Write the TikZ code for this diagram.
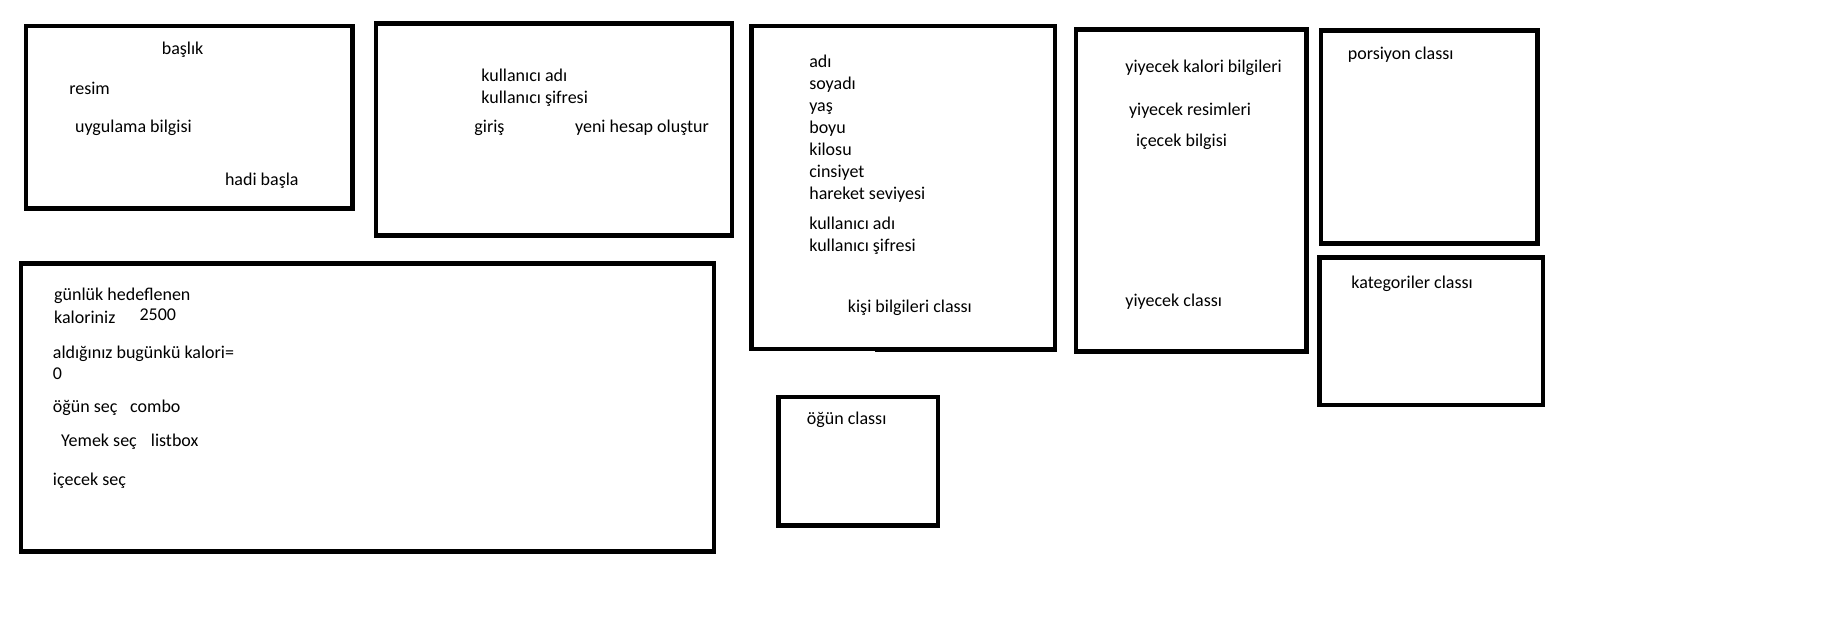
\documentclass[tikz,border=0pt]{standalone}
\usepackage{fontspec}
\setmainfont{Carlito}
\begin{document}
\begin{tikzpicture}[x=1pt,y=-1pt,
  screen/.style={draw,line width=4.5pt},
  txt/.style={anchor=base west,inner sep=0pt,font=\fontsize{18}{20}\selectfont}
  ]
  \useasboundingbox (0,0) rectangle (1836,644);
  % screens
  \draw[screen] (25.8,25.8) rectangle (352.4,208.4);
  \draw[screen] (375.9,23.4) rectangle (731.8,235.4);
  \draw[screen] (751.7,25.8) rectangle (1055,348.9);
  \draw[line width=4.5pt] (875,350.2) -- (1057,350.2);
  \draw[screen] (1076,29.3) rectangle (1306.7,351.3);
  \draw[screen] (1320.8,30.4) rectangle (1537.4,243.5);
  \draw[screen] (1319.6,257.6) rectangle (1543.2,405.1);
  \draw[screen] (21.1,263.5) rectangle (714.2,551.5);
  \draw[screen] (778.6,396.9) rectangle (937.9,525.7);
  % welcome
  \node[txt] (baslik) at (161.6,55) {başlık};
  \node[txt] (resim) at (69.1,94.8) {resim};
  \node[txt] (bilgi) at (74.9,133) {uygulama bilgisi};
  \node[txt] (basla) at (224.8,185.6) {hadi başla};
  % login
  \node[txt] (kadi) at (481.2,81.4) {kullanıcı adı};
  \node[txt] (ksifre) at (481.2,103.7) {kullanıcı şifresi};
  \node[txt] (giris) at (474.2,133) {giriş};
  \node[txt] (yeni) at (574.9,133) {yeni hesap oluştur};
  % kisi
  \foreach \t [count=\i] in {adı,soyadı,yaş,boyu,kilosu,cinsiyet,hareket seviyesi}
    \node[txt] (kisi\i) at (809.1,{67.9+22*(\i-1)}) {\t};
  \node[txt] (kisikadi) at (809.1,229.5) {kullanıcı adı};
  \node[txt] (kisisifre) at (809.1,251.7) {kullanıcı şifresi};
  \node[txt] (kisiclass) at (847.7,312.1) {kişi bilgileri classı};
  % yiyecek
  \node[txt] (kalori) at (1125.2,72.1) {yiyecek kalori bilgileri};
  \node[txt] (yresim) at (1128.8,115.9) {yiyecek resimleri};
  \node[txt] (icecek) at (1135.8,147) {içecek bilgisi};
  \node[txt] (yclass) at (1125.2,306.3) {yiyecek classı};
  \node[txt] (porsiyon) at (1347.7,59.2) {porsiyon classı};
  \node[txt] (kategori) at (1351.2,288.7) {kategoriler classı};
  % main
  \node[txt] (hedef) at (54,300.7) {günlük hedeflenen};
  \node[txt] (kaloriniz) at (54,323.3) {kaloriniz};
  \node[txt] (hedefdeger) at (139.3,320) {2500};
  \node[txt] (alinan) at (52.7,358.5) {aldığınız bugünkü kalori=};
  \node[txt] (alinandeger) at (52.7,379.5) {0};
  \node[txt] (ogunsec) at (52.7,412.7) {öğün seç};
  \node[txt] (combo) at (130,412.7) {combo};
  \node[txt] (yemeksec) at (61,446) {Yemek seç};
  \node[txt] (listbox) at (150.7,446) {listbox};
  \node[txt] (iceceksec) at (52.7,485) {içecek seç};
  \node[txt] (ogun) at (806.7,424.5) {öğün classı};
\end{tikzpicture}
\end{document}
